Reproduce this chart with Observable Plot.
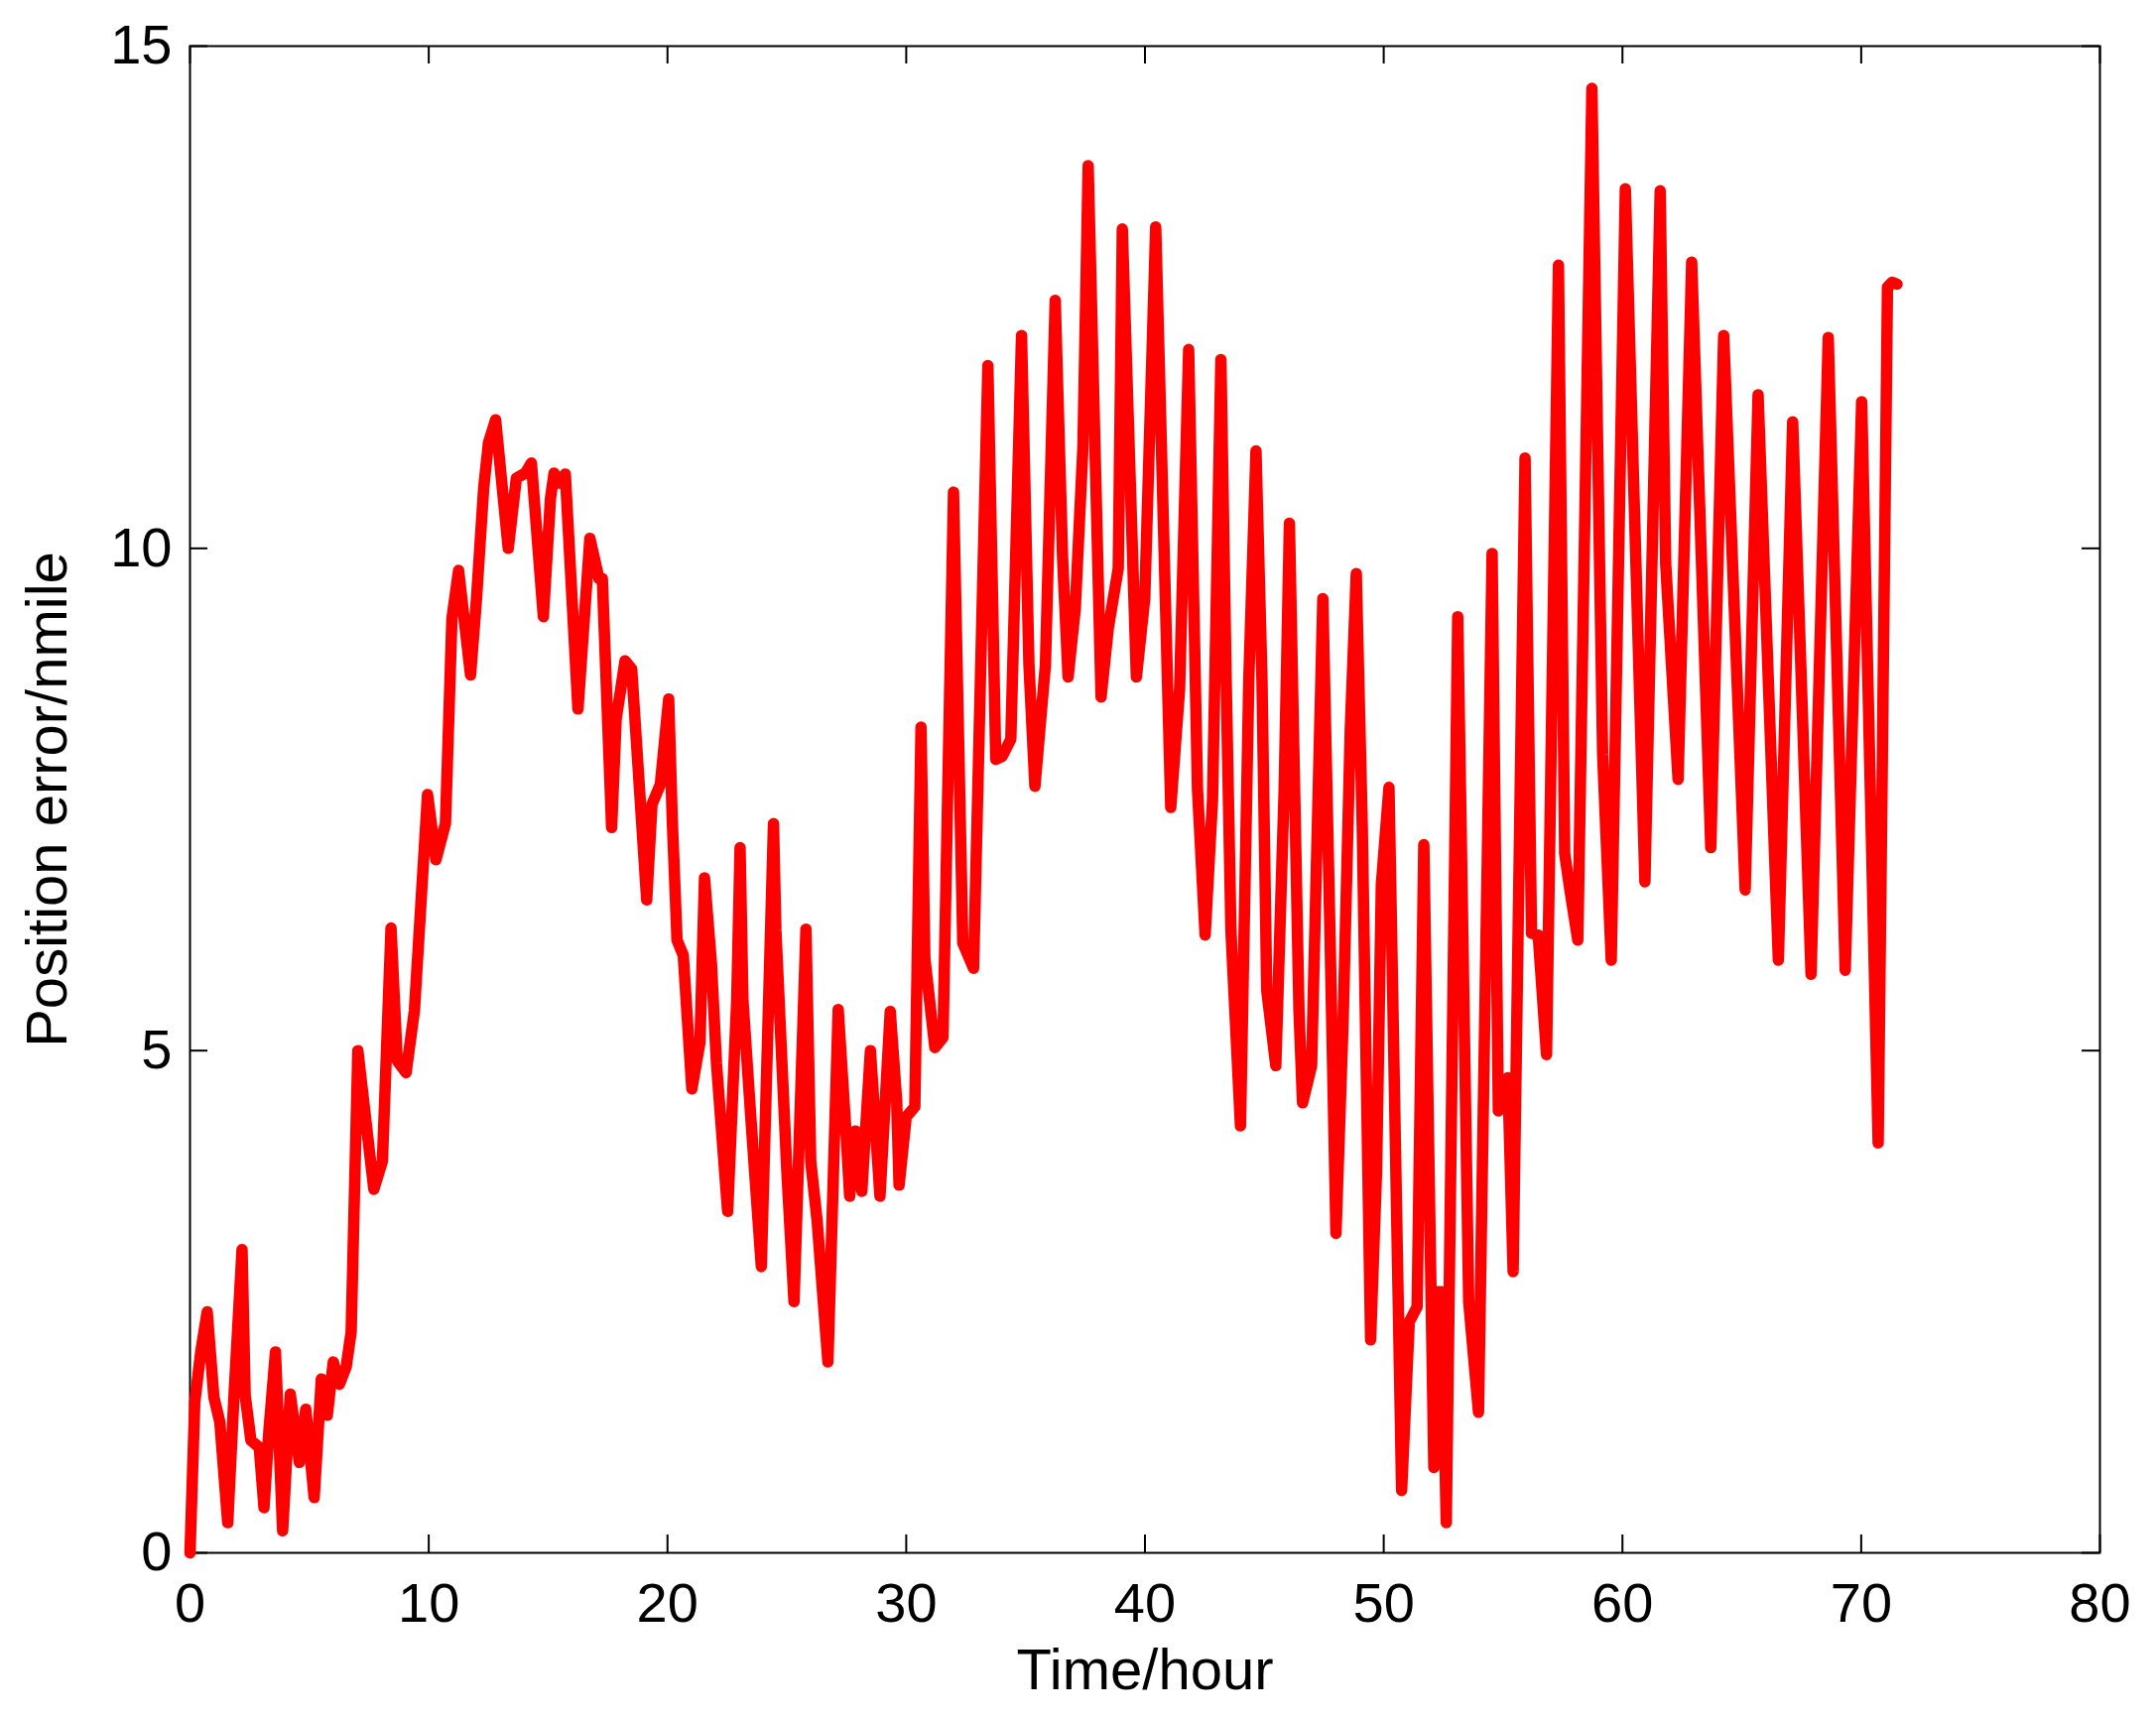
<!DOCTYPE html>
<html><head><meta charset="utf-8">
<script src="https://cdn.jsdelivr.net/npm/d3@7"></script>
<script src="https://cdn.jsdelivr.net/npm/@observablehq/plot@0.6"></script>
<style>html,body{margin:0;padding:0;background:#fff} svg{display:block}</style>
</head><body><div id="chart"></div>
<script>
// Time in hours
const time = [
  0.00,0.20,0.45,0.72,1.00,1.25,1.58,1.85,2.18,2.31,2.55,2.90,3.10,3.30,3.58,3.88,4.20,4.58,4.85,5.20,
  5.50,5.75,6.00,6.26,6.54,6.75,7.03,7.44,7.70,8.06,8.42,8.68,9.05,9.40,9.95,10.30,10.70,10.97,11.25,11.75,
  12.00,12.30,12.50,12.80,13.33,13.67,14.05,14.30,14.80,15.10,15.25,15.47,15.72,16.25,16.75,17.13,17.27,17.66,17.85,18.22,
  18.50,19.13,19.35,19.70,20.05,20.20,20.40,20.66,21.02,21.36,21.55,21.84,22.05,22.52,22.90,23.04,23.16,23.50,23.93,24.44,
  24.54,25.00,25.30,25.80,26.00,26.27,26.72,27.15,27.50,27.63,27.87,28.14,28.50,28.90,29.33,29.60,29.70,30.00,30.36,30.62,
  30.78,31.20,31.54,31.98,32.37,32.82,33.42,33.75,34.02,34.38,34.83,35.14,35.39,35.83,36.24,36.55,36.78,37.08,37.40,37.62,
  38.16,38.46,38.88,39.05,39.64,39.99,40.45,41.08,41.45,41.83,42.20,42.52,42.83,43.18,43.40,43.60,44.00,44.35,44.65,44.90,
  45.10,45.48,45.83,46.05,46.45,46.60,46.98,47.45,47.74,48.00,48.30,48.60,48.85,49.10,49.45,49.70,49.90,50.22,50.75,51.07,
  51.40,51.68,52.10,52.28,52.42,52.62,53.10,53.56,53.97,54.54,54.80,55.20,55.42,55.92,56.19,56.47,56.82,57.32,57.58,57.80,
  58.13,58.72,59.17,59.53,60.12,60.94,61.58,61.81,62.33,62.90,63.70,64.24,65.14,65.68,66.53,67.13,67.90,68.62,69.33,70.02,
  70.71,71.10,71.30,71.50
];
// Position error in nautical miles
const positionError = [
  0.00,1.50,2.00,2.40,1.55,1.30,0.30,1.60,3.02,1.57,1.12,1.05,0.45,1.20,2.00,0.22,1.58,0.90,1.43,0.55,
  1.73,1.37,1.90,1.68,1.85,2.20,5.00,4.15,3.62,3.90,6.22,4.90,4.78,5.40,7.55,6.90,7.26,9.30,9.78,8.74,
  9.50,10.60,11.05,11.28,10.00,10.70,10.75,10.85,9.32,10.50,10.75,10.65,10.74,8.40,10.10,9.70,9.70,7.22,8.30,8.88,
  8.80,6.50,7.45,7.65,8.50,7.30,6.10,5.95,4.62,5.08,6.72,5.87,4.88,3.40,5.50,7.02,5.50,4.30,2.85,7.26,
  6.20,3.80,2.50,6.21,3.90,3.30,1.90,5.41,4.10,3.55,4.20,3.60,5.00,3.55,5.39,4.50,3.66,4.34,4.44,8.22,
  5.92,5.03,5.13,10.56,6.07,5.82,11.82,7.90,7.93,8.10,12.12,8.84,7.63,8.84,12.47,9.90,8.72,9.40,11.00,13.81,
  8.52,9.20,9.80,13.18,8.72,9.50,13.20,7.42,8.60,11.98,7.60,6.15,7.50,11.88,8.70,6.20,4.25,8.70,10.97,8.70,
  5.60,4.85,7.60,10.25,5.40,4.48,4.85,9.50,6.27,3.18,5.30,8.20,9.75,7.25,2.12,3.80,6.65,7.62,0.62,2.30,
  2.45,7.05,0.85,2.60,2.60,0.30,9.32,2.50,1.40,9.95,4.40,4.73,2.80,10.90,6.17,6.15,4.96,12.82,6.96,6.60,
  6.10,14.58,7.95,5.90,13.58,6.68,13.56,9.85,7.70,12.85,7.02,12.12,6.60,11.53,5.90,11.26,5.76,12.10,5.80,11.46,
  4.08,12.60,12.65,12.63
];
const xTicks = [0, 10, 20, 30, 40, 50, 60, 70, 80];
const yTicks = [0, 5, 10, 15];
const xLabel = "Time/hour";
const yLabel = "Position error/nmile";

const data = time.map((t, i) => ({t, e: positionError[i]}));

const W = 2173, H = 1732, mL = 191, mR = 57, mT = 46, mB = 167;
const fw = W - mL - mR, fh = H - mT - mB;
const tk = 18;
const font = "'Liberation Sans', Arial, Helvetica, sans-serif";

const chart = Plot.plot({
  width: W, height: H,
  marginLeft: mL, marginRight: mR, marginTop: mT, marginBottom: mB,
  style: {fontFamily: font, background: "white", color: "black", overflow: "visible"},
  x: {domain: [0, 80]},
  y: {domain: [0, 15]},
  marks: [
    Plot.tickX(xTicks, {x: d => d, insetTop: fh - tk, stroke: "black", strokeWidth: 2}),
    Plot.tickX(xTicks, {x: d => d, insetBottom: fh - tk, stroke: "black", strokeWidth: 2}),
    Plot.tickY(yTicks, {y: d => d, insetRight: fw - tk, stroke: "black", strokeWidth: 2}),
    Plot.tickY(yTicks, {y: d => d, insetLeft: fw - tk, stroke: "black", strokeWidth: 2}),
    Plot.frame({stroke: "black", strokeWidth: 2}),
    Plot.line(data, {x: "t", y: "e", stroke: "#ff0000", strokeWidth: 11.5, strokeLinejoin: "round", strokeLinecap: "round"}),
    Plot.axisX(xTicks, {tickSize: 0, tickPadding: 30, fontSize: 56, label: null, tickFormat: d => String(d)}),
    Plot.axisY(yTicks, {tickSize: 0, tickPadding: 18, fontSize: 56, label: null, tickFormat: d => String(d)}),
    Plot.text([xLabel], {frameAnchor: "bottom", dy: 119, fontSize: 58, lineAnchor: "middle", textAnchor: "middle", fill: "black"}),
    Plot.text([yLabel], {frameAnchor: "left", dx: -143, rotate: -90, fontSize: 58, lineAnchor: "middle", textAnchor: "middle", fill: "black"})
  ]
});
document.getElementById("chart").appendChild(chart);
</script>
</body></html>
